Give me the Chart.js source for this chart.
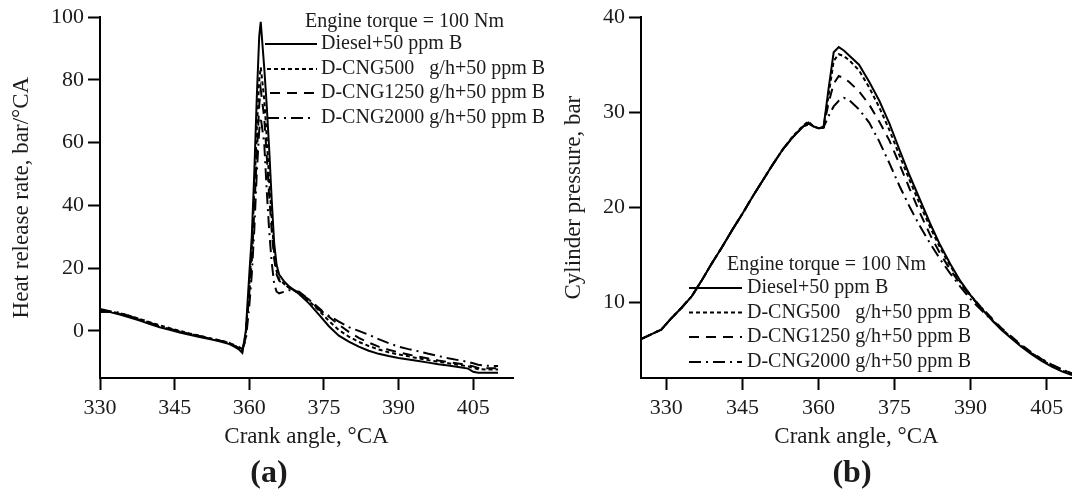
<!DOCTYPE html>
<html>
<head>
<meta charset="utf-8">
<script src="https://cdn.jsdelivr.net/npm/chart.js@4.4.1/dist/chart.umd.min.js"></script>
<style>
  html, body { margin: 0; padding: 0; background: #fff; }
  #wrap { position: relative; width: 1072px; height: 493px; overflow: hidden; }
  .box { position: absolute; top: 0; }
  #box-a { left: 0; }
  #box-b { left: 540px; }
</style>
</head>
<body>
<div id="wrap">
  <div class="box" id="box-a"><canvas id="chart-a" width="560" height="493"></canvas></div>
  <div class="box" id="box-b"><canvas id="chart-b" width="532" height="493"></canvas></div>
</div>
<script>
// Series names and legend heading
const seriesNames = ['Diesel+50 ppm B', 'D-CNG500   g/h+50 ppm B', 'D-CNG1250 g/h+50 ppm B', 'D-CNG2000 g/h+50 ppm B'];
const legendHeading = 'Engine torque = 100 Nm';

// Tick labels
const angleTicks = [330, 345, 360, 375, 390, 405];
const hrrTicks = [0, 20, 40, 60, 80, 100];
const pressureTicks = [10, 20, 30, 40];

// (a) Heat release rate, bar/°CA
const hrrAngle = [330, 332, 334, 336, 338, 340, 342, 344, 346, 348, 350, 352, 354, 356,
  357, 358, 358.6, 359.3, 360, 360.5, 361, 361.5, 362, 362.3, 363, 363.5, 364, 364.5, 365, 365.5, 366, 367, 368,
  370, 372, 374, 376, 378, 380, 382, 384, 386, 388, 390, 392, 394, 396, 398, 400, 402, 404,
  405, 406, 408, 410];
const hrrDiesel = [6.3, 6.0, 5.2, 4.3, 3.3, 2.2, 1.2, 0.4, -0.5, -1.2, -1.9, -2.6, -3.3, -4.2,
  -5.0, -6.0, -7.0, 0, 18, 30, 50, 74, 94, 98.5, 84, 72, 58, 42, 28, 21, 18, 15.8, 14.2,
  11.8, 8.8, 5.2, 1.5, -1.5, -3.4, -5.0, -6.3, -7.3, -8.0, -8.6, -9.1, -9.6, -10.1, -10.6, -11.0, -11.5, -12.0,
  -13.0, -13.3, -13.3, -13.3];
const hrrCng500 = [6.5, 6.2, 5.6, 4.8, 3.8, 2.8, 1.8, 0.9, 0.0, -0.8, -1.5, -2.3, -3.0, -3.8,
  -4.6, -5.5, -6.5, -1.0, 15, 26, 44, 64, 80, 84, 74, 62, 48, 36, 25, 19, 16.5, 15.0, 13.8,
  12.0, 9.5, 6.5, 3.2, 0.3, -1.8, -3.5, -4.8, -5.9, -6.8, -7.5, -8.1, -8.7, -9.3, -9.8, -10.3, -10.8, -11.3,
  -11.8, -12.2, -12.3, -12.3];
const hrrCng1250 = [6.0, 6.1, 5.4, 4.6, 3.5, 2.5, 1.5, 0.6, -0.3, -1.0, -1.7, -2.4, -3.1, -3.9,
  -4.7, -5.6, -6.2, -2.0, 12, 22, 38, 56, 72, 77, 68, 56, 43, 32, 23, 18, 16.0, 14.8, 13.8,
  12.2, 10.0, 7.3, 4.5, 2.0, -0.3, -2.2, -3.7, -5.0, -6.0, -6.8, -7.5, -8.2, -8.8, -9.4, -9.9, -10.4, -10.9,
  -11.3, -11.8, -11.9, -11.9];
const hrrCng2000 = [7.0, 6.3, 5.8, 4.7, 3.7, 2.6, 1.6, 0.7, -0.2, -0.9, -1.6, -2.3, -3.0, -3.8,
  -4.5, -5.2, -5.8, -3.0, 8, 18, 32, 50, 64, 68, 60, 45, 32, 22, 15, 12.5, 12.0, 12.5, 13.0,
  12.5, 10.0, 6.8, 4.8, 3.0, 1.2, 0.0, -1.2, -2.6, -3.9, -5.0, -5.8, -6.5, -7.3, -8.0, -8.7, -9.3, -9.9,
  -10.3, -10.8, -11.1, -11.2];

// (b) Cylinder pressure, bar
const pAngle = [325, 327, 329, 331, 333, 335, 337, 339, 341, 343, 345, 347, 349, 351, 353, 355, 357,
  358, 359, 360, 361, 362, 363, 364, 365, 366,
  368, 370, 372, 374, 376, 378, 380, 382, 384, 386, 388, 390, 392, 394, 396, 398, 400, 402, 404, 406, 408, 410];
const pDiesel = [6.1, 6.6, 7.1, 8.3, 9.4, 10.6, 12.3, 14.1, 15.8, 17.6, 19.3, 21.1, 22.8, 24.5, 26.1, 27.4, 28.5,
  28.9, 28.5, 28.3, 28.4, 32.5, 36.3, 36.85, 36.5, 36.0,
  35.0, 33.2, 31.2, 28.8, 26.0, 23.3, 20.8, 18.3, 16.0, 14.0, 12.2, 10.7, 9.4, 8.2, 7.1, 6.2, 5.3, 4.5, 3.8, 3.2, 2.7, 2.3];
const pCng500 = [6.1, 6.6, 7.1, 8.3, 9.4, 10.6, 12.3, 14.1, 15.8, 17.6, 19.3, 21.1, 22.8, 24.5, 26.1, 27.5, 28.6,
  29.0, 28.5, 28.3, 28.4, 31.8, 35.4, 36.1, 35.9, 35.5,
  34.4, 32.6, 30.5, 28.1, 25.4, 22.8, 20.3, 17.9, 15.7, 13.8, 12.1, 10.7, 9.5, 8.3, 7.2, 6.3, 5.4, 4.6, 3.9, 3.3, 2.8, 2.4];
const pCng1250 = [6.1, 6.6, 7.1, 8.3, 9.4, 10.6, 12.3, 14.1, 15.8, 17.6, 19.3, 21.1, 22.8, 24.5, 26.1, 27.4, 28.5,
  28.8, 28.5, 28.3, 28.4, 31.0, 33.0, 33.8, 33.6, 33.2,
  32.2, 30.8, 29.0, 27.0, 24.5, 21.9, 19.4, 17.1, 15.1, 13.4, 11.9, 10.6, 9.5, 8.4, 7.3, 6.4, 5.5, 4.7, 4.0, 3.4, 2.9, 2.5];
const pCng2000 = [6.1, 6.6, 7.1, 8.3, 9.4, 10.6, 12.3, 14.1, 15.8, 17.6, 19.3, 21.1, 22.8, 24.5, 26.1, 27.4, 28.5,
  28.7, 28.5, 28.3, 28.4, 29.6, 30.6, 31.2, 31.5, 31.3,
  30.3, 28.9, 26.9, 24.6, 22.2, 20.0, 18.0, 16.2, 14.5, 13.0, 11.6, 10.3, 9.2, 8.2, 7.2, 6.3, 5.4, 4.6, 4.0, 3.4, 2.9, 2.5];

const ink = '#1c1a1a';
const serif = "'Liberation Serif', 'Times New Roman', serif";
const dashes = [[], [4, 3], [10, 7], [12, 5, 2, 5]];

Chart.defaults.font.family = serif;
Chart.defaults.color = ink;

function toPoints(xs, ys) {
  return xs.map((x, i) => ({ x: x, y: ys[i] }));
}

function makeDatasets(xs, seriesList) {
  return seriesList.map((ys, i) => ({
    label: seriesNames[i],
    data: toPoints(xs, ys),
    borderColor: '#000',
    borderWidth: 2,
    borderDash: dashes[i],
    pointRadius: 0,
    tension: 0,
    fill: false
  }));
}

// Legend with leader lines and the panel letter, drawn on the canvas
const panelLegend = {
  id: 'panelLegend',
  afterDraw(chart, args, opts) {
    const ctx = chart.ctx;
    ctx.save();
    ctx.fillStyle = ink;
    ctx.textBaseline = 'middle';
    ctx.textAlign = 'left';
    ctx.font = '20px ' + serif;
    ctx.fillText(legendHeading, opts.headX, opts.headY);
    chart.data.datasets.forEach((ds, i) => {
      const y = opts.rows[i];
      ctx.beginPath();
      ctx.setLineDash(ds.borderDash);
      ctx.lineWidth = ds.borderWidth;
      ctx.strokeStyle = '#000';
      ctx.moveTo(opts.lines[i][0], y);
      ctx.lineTo(opts.lines[i][1], y);
      ctx.stroke();
      ctx.setLineDash([]);
      ctx.fillText(ds.label, opts.textX, y);
    });
    ctx.textAlign = 'center';
    ctx.font = 'bold 32px ' + serif;
    ctx.fillText(opts.letter, opts.letterX, opts.letterY);
    ctx.restore();
  }
};

function axisX(min, max) {
  return {
    type: 'linear', min: min, max: max,
    afterBuildTicks: s => { s.ticks = angleTicks.map(v => ({ value: v })); },
    afterFit: s => { s.height = 82; },
    border: { display: true, color: '#000', width: 2 },
    grid: { drawOnChartArea: false, drawTicks: true, tickLength: 12, tickWidth: 2, tickColor: '#000' },
    ticks: { color: ink, font: { size: 22 }, padding: 5, maxRotation: 0, autoSkip: false },
    title: { display: true, text: 'Crank angle, °CA', color: ink, font: { size: 23 }, padding: { top: 0, bottom: 9 } }
  };
}

function axisY(min, max, ticks, width, text, titlePad) {
  return {
    type: 'linear', min: min, max: max,
    afterBuildTicks: s => { s.ticks = ticks.map(v => ({ value: v })); },
    afterFit: s => { s.width = width; },
    border: { display: true, color: '#000', width: 2 },
    grid: { drawOnChartArea: false, drawTicks: true, tickLength: 12, tickWidth: 2, tickColor: '#000' },
    ticks: { color: ink, font: { size: 22 }, padding: 4 },
    title: { display: true, text: text, color: ink, font: { size: 23 }, padding: { top: titlePad, bottom: 0 } }
  };
}

new Chart(document.getElementById('chart-a'), {
  type: 'line',
  data: { datasets: makeDatasets(hrrAngle, [hrrDiesel, hrrCng500, hrrCng1250, hrrCng2000]) },
  options: {
    responsive: false,
    animation: false,
    layout: { padding: { top: 17, right: 47, bottom: 33, left: 0 } },
    plugins: {
      legend: { display: false },
      tooltip: { enabled: false },
      panelLegend: {
        headX: 305, headY: 22, textX: 321,
        rows: [44, 69, 93, 118],
        lines: [[265, 317], [267, 317], [270, 317], [267, 314]],
        letter: '(a)', letterX: 269, letterY: 474
      }
    },
    scales: {
      x: axisX(330, 413),
      y: axisY(-15, 100, hrrTicks, 100, 'Heat release rate, bar/°CA', 8)
    }
  },
  plugins: [panelLegend]
});

new Chart(document.getElementById('chart-b'), {
  type: 'line',
  data: { datasets: makeDatasets(pAngle, [pDiesel, pCng500, pCng1250, pCng2000]) },
  options: {
    responsive: false,
    animation: false,
    layout: { padding: { top: 17, right: 0, bottom: 33, left: 0 } },
    plugins: {
      legend: { display: false },
      tooltip: { enabled: false },
      panelLegend: {
        headX: 187, headY: 265, textX: 207,
        rows: [288, 312.5, 337, 362],
        lines: [[149, 202], [149, 202], [149, 202], [149, 202]],
        letter: '(b)', letterX: 312, letterY: 474
      }
    },
    scales: {
      x: axisX(325, 410),
      y: axisY(2, 40, pressureTicks, 101, 'Cylinder pressure, bar', 20)
    }
  },
  plugins: [panelLegend]
});
</script>
</body>
</html>
